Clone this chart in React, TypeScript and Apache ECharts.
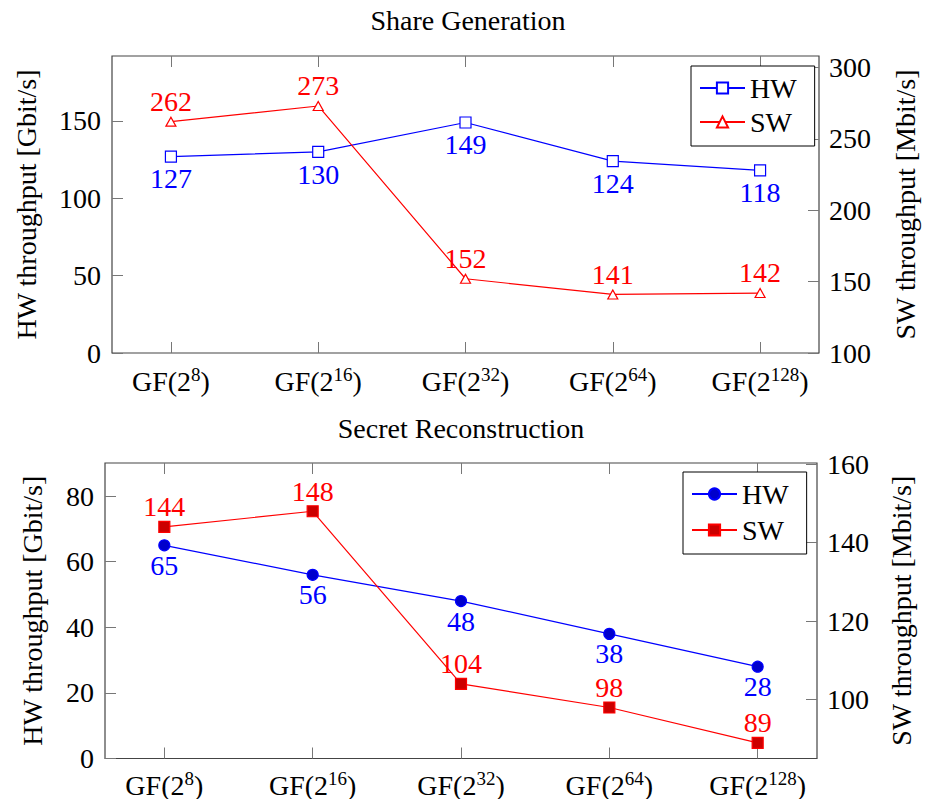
import React, { useEffect, useRef } from 'react';
import * as echarts from 'echarts';

// ---- data ----
const gfExponents = ['8', '16', '32', '64', '128'];
const categoryIndex = [0, 1, 2, 3, 4];
const shareHW = [127, 130, 149, 124, 118];
const shareSW = [262, 273, 152, 141, 142];
const reconHW = [65, 56, 48, 38, 28];
const reconSW = [144, 148, 104, 98, 89];
const shareLeftTicks = [0, 50, 100, 150];
const shareRightTicks = [100, 150, 200, 250, 300];
const reconLeftTicks = [0, 20, 40, 60, 80];
const reconRightTicks = [100, 120, 140, 160];

const FONT = "'Liberation Serif', 'DejaVu Serif', serif";
const FS = 28;
const TICK_COLOR = '#777';
const FRAME = '#444';

function xAxisBottom(gridIndex: number, margin: number) {
  return {
    type: 'value', gridIndex, position: 'bottom', min: -0.4, max: 4.4,
    axisLine: { show: false, onZero: false }, splitLine: { show: false },
    axisTick: { show: true, inside: true, length: 11, customValues: categoryIndex, lineStyle: { color: TICK_COLOR, width: 1 } },
    axisLabel: {
      show: true, customValues: categoryIndex, margin, fontSize: FS, fontFamily: FONT, color: '#000',
      formatter: (v: number) => `{n|GF(2}{s|${gfExponents[Math.round(v)]}}{n|)}`,
      rich: {
        n: { fontSize: FS, fontFamily: FONT, color: '#000' },
        s: { fontSize: 19, fontFamily: FONT, color: '#000', padding: [0, 0, 14, 0] },
      },
    },
  };
}

function xAxisTop(gridIndex: number) {
  return {
    type: 'value', gridIndex, position: 'top', min: -0.4, max: 4.4,
    axisLine: { show: false, onZero: false }, splitLine: { show: false },
    axisTick: { show: true, inside: true, length: 11, customValues: categoryIndex, lineStyle: { color: TICK_COLOR, width: 1 } },
    axisLabel: { show: false },
  };
}

function yAxis(gridIndex: number, position: string, min: number, max: number, ticks: number[], name: string, nameGap: number, margin: number) {
  return {
    type: 'value', gridIndex, position, min, max, name, nameLocation: 'middle', nameGap, nameRotate: 90,
    nameTextStyle: { fontSize: FS, fontFamily: FONT, color: '#000' },
    axisLine: { show: false, onZero: false }, splitLine: { show: false },
    axisTick: { show: true, inside: true, length: 11, customValues: ticks, lineStyle: { color: TICK_COLOR, width: 1 } },
    axisLabel: { customValues: ticks, margin, fontSize: FS, fontFamily: FONT, color: '#000' },
  };
}

function lineSeries(name: string, values: number[], xIdx: number, yIdx: number, color: string, symbol: string, symbolSize: any, fill: string, labelPos: string, distance: number) {
  return {
    type: 'line', name, xAxisIndex: xIdx, yAxisIndex: yIdx,
    data: categoryIndex.map((i) => [i, values[i]]),
    symbol, symbolSize,
    lineStyle: { color, width: 1.2 },
    itemStyle: { color: fill, borderColor: color, borderWidth: 1.2 },
    label: {
      show: true, position: labelPos, distance, color, fontSize: FS, fontFamily: FONT,
      formatter: (p: any) => String(p.value[1]),
    },
    emphasis: { disabled: true },
  };
}

function legend(left: number, top: number, names: string[], gap: number) {
  return {
    orient: 'vertical', left, top, data: names,
    itemWidth: 45, itemHeight: 14, itemGap: gap,
    padding: [8, 18, 10, 8],
    borderColor: '#000', borderWidth: 1, backgroundColor: '#fff',
    textStyle: { fontSize: FS, fontFamily: FONT, color: '#000' },
    formatter: (n: string) => n.trim(),
    selectedMode: false,
  };
}

export default function App() {
  const ref = useRef<HTMLDivElement>(null);
  useEffect(() => {
    if (!ref.current) return;
    const chart = echarts.init(ref.current, null, { renderer: 'svg' });
    chart.setOption({
      animation: false,
      backgroundColor: '#fff',
      textStyle: { fontFamily: FONT },
      grid: [
        { left: 112, top: 56, width: 712, height: 297, show: true, borderColor: FRAME, borderWidth: 1.2, backgroundColor: 'transparent', containLabel: false },
        { left: 105, top: 463, width: 712, height: 296, show: true, borderColor: FRAME, borderWidth: 1.2, backgroundColor: 'transparent', containLabel: false },
      ],
      graphic: [
        { type: 'text', x: 468, y: 6, style: { text: 'Share Generation', fontSize: FS, fontFamily: FONT, fill: '#000', textAlign: 'center' } },
        { type: 'text', x: 461, y: 414, style: { text: 'Secret Reconstruction', fontSize: FS, fontFamily: FONT, fill: '#000', textAlign: 'center' } },
      ],
      xAxis: [xAxisBottom(0, 12), xAxisTop(0), xAxisBottom(1, 10), xAxisTop(1)],
      yAxis: [
        yAxis(0, 'left', 0, 192, shareLeftTicks, 'HW throughput [Gbit/s]', 72, 11),
        yAxis(0, 'right', 100, 308, shareRightTicks, 'SW throughput [Mbit/s]', 72, 10),
        yAxis(1, 'left', 0, 90.1, reconLeftTicks, 'HW throughput [Gbit/s]', 59, 11),
        yAxis(1, 'right', 85, 160.3, reconRightTicks, 'SW throughput [Mbit/s]', 70, 10),
      ],
      legend: [legend(691, 66, ['HW', 'SW'], 6), legend(683, 472, ['HW ', 'SW '], 8)],
      series: [
        lineSeries('HW', shareHW, 0, 0, '#0000ff', 'rect', 11, '#ffffff', 'bottom', 2),
        lineSeries('SW', shareSW, 0, 1, '#ff0000', 'triangle', [10, 9], '#ffffff', 'top', 1),
        lineSeries('HW ', reconHW, 2, 2, '#0000ff', 'circle', 11, '#0000cc', 'bottom', 0),
        lineSeries('SW ', reconSW, 2, 3, '#ff0000', 'rect', 11, '#cc0000', 'top', 0),
      ],
    });
    return () => chart.dispose();
  }, []);
  return <div ref={ref} style={{ position: 'absolute', left: 0, top: 0, width: 927, height: 799 }} />;
}
